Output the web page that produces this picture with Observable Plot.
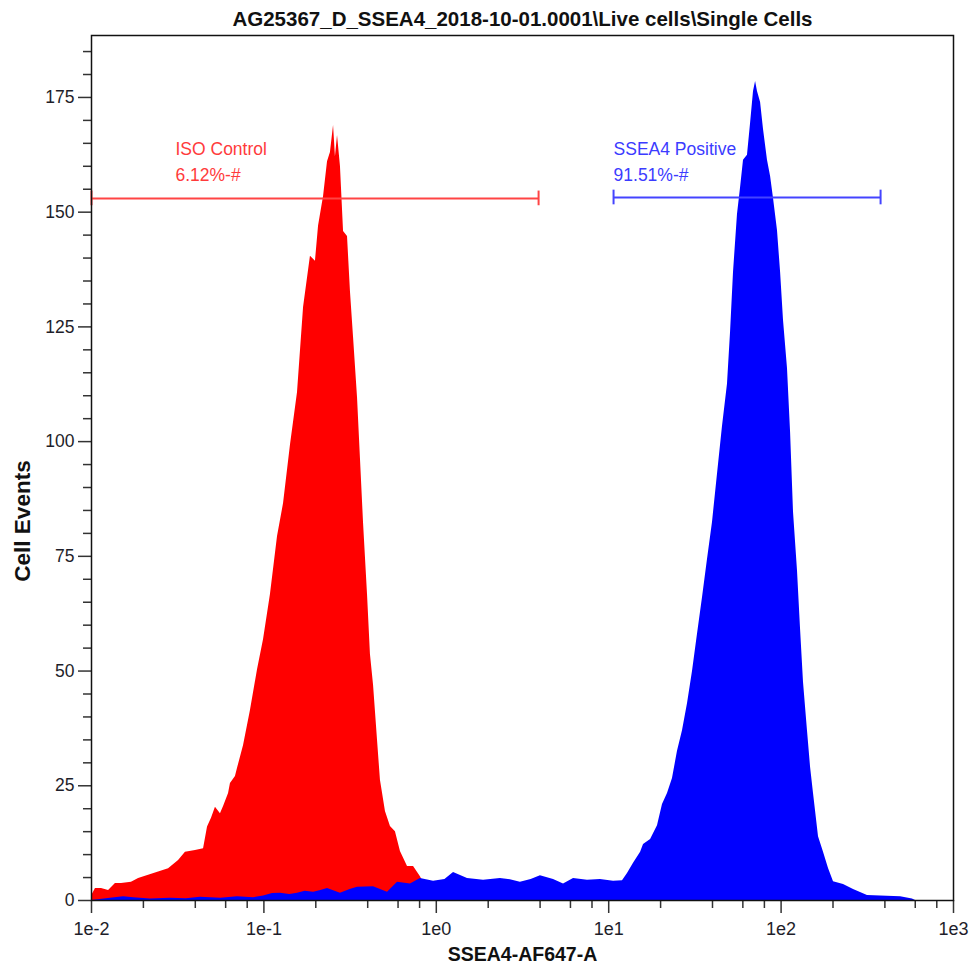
<!DOCTYPE html>
<html>
<head>
<meta charset="utf-8">
<script src="https://cdn.jsdelivr.net/npm/d3@7"></script>
<script src="https://cdn.jsdelivr.net/npm/@observablehq/plot@0.6"></script>
<style>
  html, body { margin: 0; padding: 0; background: #fff; }
  #chart svg { display: block; }
</style>
</head>
<body>
<div id="chart"></div>
<script>
// ---- Data (x stored as log10 of SSEA4-AF647-A intensity) ----
const chartTitle = "AG25367_D_SSEA4_2018-10-01.0001\\Live cells\\Single Cells";
const xLabel = "SSEA4-AF647-A";
const yLabel = "Cell Events";

const isoLog = [-2.000,-1.977,-1.942,-1.901,-1.861,-1.826,-1.768,-1.727,-1.669,-1.611,-1.553,-1.495,-1.455,-1.397,-1.350,-1.327,-1.304,-1.281,-1.252,-1.234,-1.205,-1.194,-1.165,-1.153,-1.118,-1.078,-1.037,-1.002,-0.962,-0.921,-0.886,-0.846,-0.805,-0.770,-0.730,-0.701,-0.683,-0.654,-0.631,-0.614,-0.596,-0.585,-0.573,-0.556,-0.538,-0.515,-0.498,-0.480,-0.457,-0.440,-0.422,-0.399,-0.382,-0.364,-0.341,-0.324,-0.295,-0.266,-0.237,-0.208,-0.167,-0.132,-0.092,-0.063,-0.040];
const isoCount = [1.0,2.6,2.6,2.2,3.7,3.7,4.0,4.8,5.5,6.2,6.9,8.7,10.5,10.9,11.3,16.0,17.9,20.3,18.9,20.5,23.3,25.5,27.0,28.8,33.8,41.4,50.3,56.9,66.7,79.3,86.5,99.2,110.7,129.2,140.4,139.3,147.0,153.4,161.0,163.0,168.9,162.0,166.7,160.0,145.8,144.7,132.7,122.7,109.6,96.3,82.2,66.7,53.6,46.9,34.9,26.2,19.4,16.1,15.0,10.7,7.4,7.4,5.2,3.0,0];

const sseaLog = [-2.000,-1.950,-1.890,-1.814,-1.756,-1.658,-1.542,-1.450,-1.368,-1.250,-1.153,-1.060,-1.002,-0.950,-0.904,-0.850,-0.805,-0.760,-0.712,-0.670,-0.631,-0.556,-0.500,-0.457,-0.364,-0.283,-0.225,-0.150,-0.092,-0.016,0.050,0.100,0.181,0.274,0.372,0.430,0.488,0.550,0.604,0.680,0.738,0.796,0.877,0.952,1.028,1.080,1.109,1.144,1.185,1.202,1.243,1.283,1.312,1.341,1.370,1.399,1.428,1.457,1.486,1.515,1.544,1.573,1.602,1.631,1.660,1.689,1.707,1.724,1.747,1.765,1.782,1.805,1.823,1.840,1.852,1.863,1.881,1.898,1.921,1.939,1.956,1.979,1.997,2.014,2.037,2.055,2.072,2.095,2.113,2.130,2.153,2.171,2.188,2.217,2.246,2.275,2.304,2.362,2.420,2.501,2.577,2.693,2.762,2.780];
const sseaCount = [0,0.2,0.5,0.8,0.6,0.3,0.5,0.4,0.7,0.5,0.8,0.6,1.0,1.5,1.6,1.3,1.6,2.0,1.8,2.2,2.6,1.6,2.4,2.9,3.0,1.8,4.0,3.6,4.8,4.2,4.6,6.1,4.8,4.4,4.8,4.5,4.0,4.6,5.4,4.6,3.6,4.8,4.4,4.6,4.2,4.3,5.9,8.1,10.5,12.2,13.3,16.3,20.9,23.3,26.6,32.5,37.0,42.9,49.9,58.0,66.0,74.3,82.4,92.9,103.3,112.5,124.0,136.9,149.5,155.4,161.3,162.4,169.4,176.3,178.5,176.3,173.9,168.0,161.3,157.8,153.0,146.0,136.9,126.4,116.0,102.0,84.6,71.9,59.0,47.5,37.0,29.0,23.3,13.9,10.5,7.0,4.1,3.5,2.4,1.1,1.0,0.8,0.3,0];

// gates
const gateNames = ["ISO Control", "SSEA4 Positive"];
const gatePercents = ["6.12%-#", "91.51%-#"];
const gateStart = [0.01, 10.67];
const gateEnd = [3.92, 377.6];
const gateLevel = [153.0, 153.2];
const gateLabelX = [0.0307, 10.67];
const gateStroke = ["#ff4444", "#4444ff"];
const gateTextColor = ["#ff3b3b", "#3b3bff"];

// axis ticks
const xMajor = [0.01, 0.1, 1, 10, 100, 1000];
const xMajorLabels = ["1e-2", "1e-1", "1e0", "1e1", "1e2", "1e3"];
const xMinorMult = [2, 4, 6, 8];
const yMajor = [0, 25, 50, 75, 100, 125, 150, 175];
const yMinorStep = 5;

// ---- Build tables ----
const iso = isoLog.map((l, i) => ({x: 10 ** l, y: isoCount[i]}));
const ssea = sseaLog.map((l, i) => ({x: 10 ** l, y: sseaCount[i]}));
const xMinor = xMajor.slice(0, -1).flatMap(d => xMinorMult.map(m => d * m));
const yMinor = d3.range(0, 188, yMinorStep).filter(v => v % 25 !== 0);
const gates = gateNames.map((n, i) => ({
  name: n, pct: gatePercents[i], x1: gateStart[i], x2: gateEnd[i],
  y: gateLevel[i], lx: gateLabelX[i], stroke: gateStroke[i], color: gateTextColor[i]
}));
const caps = gates.flatMap(g => [{x: g.x1, y: g.y, c: g.stroke}, {x: g.x2, y: g.y, c: g.stroke}]);

const font = "Liberation Sans, Arial, sans-serif";

const chart = Plot.plot({
  width: 970,
  height: 966,
  marginLeft: 91,
  marginRight: 17,
  marginTop: 35,
  marginBottom: 66,
  style: {fontFamily: font, background: "#fff", color: "#222"},
  x: {type: "log", domain: [0.01, 1000]},
  y: {domain: [0, 188.5]},
  marks: [
    Plot.areaY(iso, {x: "x", y: "y", fill: "#ff0000", curve: "linear", clip: true}),
    Plot.areaY(ssea, {x: "x", y: "y", fill: "#0000ff", curve: "linear", clip: true}),
    // gates
    Plot.ruleY(gates, {y: "y", x1: "x1", x2: "x2", stroke: "stroke", strokeWidth: 2}),
    Plot.ruleX(caps, {x: "x", y1: d => d.y - 1.6, y2: d => d.y + 1.6, stroke: "c", strokeWidth: 2}),
    Plot.text(gates, {x: "lx", y: 163.6, text: "name", fill: "color", textAnchor: "start", fontSize: 17.5, lineAnchor: "middle"}),
    Plot.text(gates, {x: "lx", y: 158.0, text: "pct", fill: "color", textAnchor: "start", fontSize: 17.5, lineAnchor: "middle"}),
    // axes
    Plot.axisX({ticks: xMinor, tickSize: 8, tickFormat: () => "", label: null, strokeWidth: 1.5, stroke: "#333"}),
    Plot.axisX({ticks: xMajor, tickSize: 13, tickPadding: 9, tickFormat: d => xMajorLabels[xMajor.indexOf(d)], label: null, fontSize: 18, strokeWidth: 1.5, stroke: "#333", fill: "#1e1e2a"}),
    Plot.axisY({ticks: yMinor, tickSize: 8, tickFormat: () => "", label: null, strokeWidth: 1.5, stroke: "#333"}),
    Plot.axisY({ticks: yMajor, tickSize: 13, tickPadding: 4, label: null, fontSize: 17.5, strokeWidth: 1.5, stroke: "#333", fill: "#1e1e2a"}),
    Plot.frame({stroke: "#111", strokeWidth: 1.5}),
    // titles
    Plot.text([chartTitle], {frameAnchor: "top", dy: -16, lineAnchor: "middle", fontSize: 20.5, fontWeight: "bold", fill: "#111"}),
    Plot.text([xLabel], {frameAnchor: "bottom", dy: 54, lineAnchor: "middle", fontSize: 19.5, fontWeight: "bold", fill: "#111"}),
    Plot.text([yLabel], {frameAnchor: "left", dx: -69, dy: 53, textAnchor: "middle", rotate: -90, fontSize: 22.5, fontWeight: "bold", fill: "#111"})
  ]
});
document.getElementById("chart").appendChild(chart);
</script>
</body>
</html>
